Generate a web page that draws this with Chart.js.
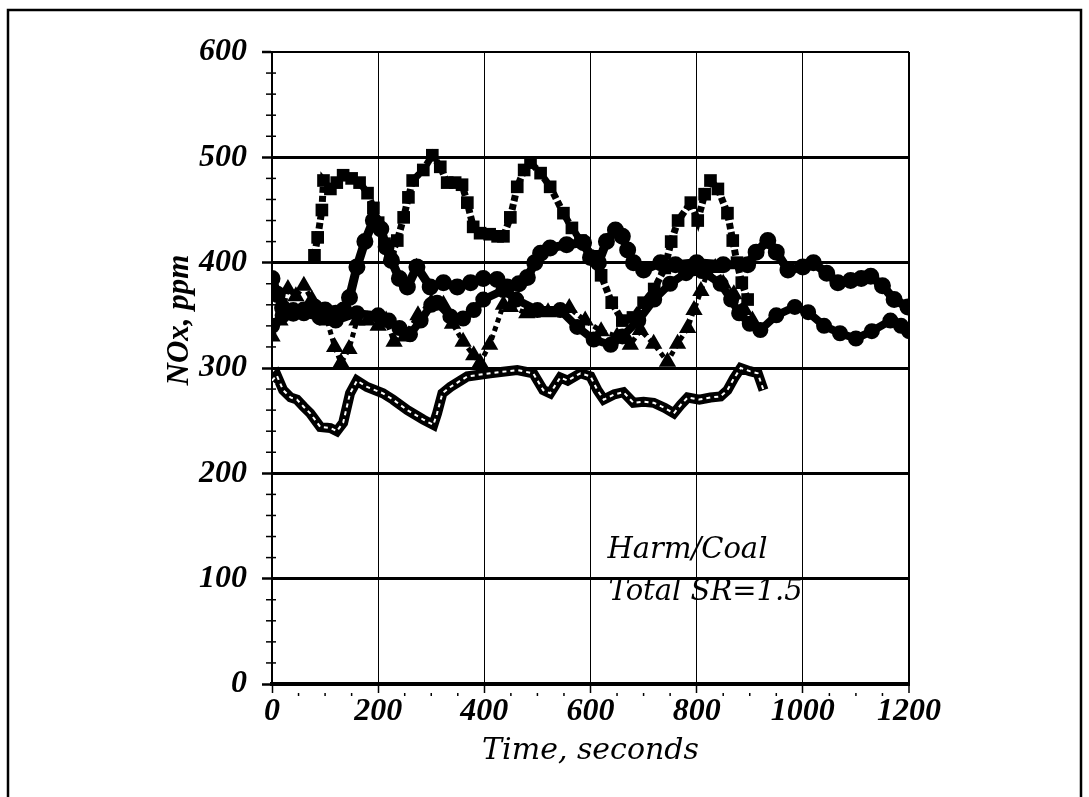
<!DOCTYPE html>
<html>
<head>
<meta charset="utf-8">
<script src="https://cdn.jsdelivr.net/npm/chart.js"></script>
<style>
  html, body { margin: 0; padding: 0; background: #fff; }
  #wrap { width: 1089px; height: 797px; position: relative; }
</style>
</head>
<body>
<div id="wrap"><canvas id="myChart"></canvas></div>
<script>
// NOx readings, Harm/Coal run, total SR = 1.5
// upper run (filled squares)
var sqTime = [80, 86, 94, 97, 110, 122, 134, 150, 165, 180, 191, 200, 212, 223, 236, 248, 257, 265, 285, 302, 317, 330, 345, 358, 368, 379, 392, 410, 425, 436, 449, 462, 475, 487, 506, 524, 549, 565, 581, 606, 620, 640, 660, 680, 700, 720, 740, 752, 765, 789, 802, 815, 826, 840, 858, 868, 876, 885, 896];
var sqNox = [407, 424, 450, 478, 470, 476, 483, 480, 476, 466, 452, 438, 418, 405, 421, 443, 462, 478, 488, 502, 491, 476, 476, 474, 457, 434, 428, 427, 425, 425, 443, 472, 488, 495, 485, 472, 447, 433, 421, 406, 388, 362, 345, 348, 362, 375, 395, 420, 440, 457, 440, 465, 478, 470, 447, 421, 400, 381, 365];

// run A (filled circles, full length)
var circATime = [0, 10, 20, 40, 60, 80, 100, 120, 135, 146, 160, 175, 191, 205, 215, 225, 240, 255, 273, 298, 323, 349, 374, 398, 424, 443, 465, 481, 495, 506, 524, 555, 587, 600, 615, 630, 647, 660, 670, 681, 700, 732, 760, 800, 850, 896, 912, 934, 950, 972, 1000, 1020, 1045, 1066, 1090, 1110, 1128, 1150, 1172, 1198];
var circANox = [385, 370, 357, 352, 355, 358, 355, 352, 355, 367, 396, 420, 440, 432, 415, 402, 385, 377, 396, 377, 381, 377, 381, 385, 384, 377, 380, 386, 400, 409, 414, 417, 419, 405, 400, 420, 431, 425, 412, 400, 393, 400, 398, 400, 398, 398, 410, 421, 410, 393, 396, 400, 390, 381, 383, 385, 387, 378, 365, 358];

// run B (filled circles, lower)
var circBTime = [0, 20, 40, 60, 90, 120, 160, 200, 220, 240, 260, 280, 300, 311, 336, 360, 380, 398, 436, 460, 500, 543, 575, 606, 638, 660, 690, 720, 750, 780, 810, 845, 865, 880, 900, 920, 950, 985, 1010, 1040, 1070, 1100, 1130, 1165, 1185, 1200];
var circBNox = [340, 350, 355, 352, 348, 345, 352, 350, 345, 338, 332, 345, 360, 362, 349, 347, 355, 365, 374, 365, 355, 355, 339, 327, 322, 330, 345, 365, 380, 390, 392, 380, 365, 352, 342, 336, 350, 358, 353, 340, 333, 328, 335, 345, 340, 335];

// triangles
var triTime = [0, 15, 30, 45, 60, 75, 90, 104, 118, 130, 145, 160, 180, 200, 215, 230, 250, 275, 300, 323, 340, 360, 380, 392, 410, 436, 449, 480, 520, 560, 590, 620, 650, 675, 694, 719, 745, 764, 783, 795, 808, 820, 835, 850, 870, 890, 905];
var triNox = [330, 345, 375, 368, 378, 365, 352, 345, 320, 305, 318, 345, 345, 340, 345, 325, 330, 350, 362, 360, 342, 325, 312, 305, 322, 360, 358, 352, 353, 357, 345, 335, 330, 322, 336, 323, 306, 323, 338, 355, 373, 390, 395, 380, 370, 355, 345];

// open squares (lowest run)
var openTime = [0, 9, 21, 35, 47, 60, 72, 91, 110, 122, 134, 147, 160, 179, 209, 228, 255, 285, 304, 311, 321, 336, 368, 411, 462, 492, 511, 524, 543, 557, 581, 600, 613, 625, 645, 662, 681, 700, 719, 740, 757, 770, 783, 805, 826, 845, 858, 870, 883, 900, 915, 926];
var openNox = [288, 293, 279, 272, 270, 263, 257, 244, 243, 240, 248, 276, 288, 282, 276, 270, 260, 251, 246, 257, 276, 282, 292, 295, 298, 295, 279, 276, 291, 288, 295, 292, 279, 270, 275, 277, 267, 268, 267, 262, 257, 265, 272, 270, 272, 273, 279, 290, 300, 297, 295, 279];

var xTicks = [0, 200, 400, 600, 800, 1000, 1200];
var yTicks = [0, 100, 200, 300, 400, 500, 600];

function pts(t, v) {
    var out = [];
    for (let i = 0; i < t.length; i++) out.push({x: t[i], y: v[i]});
    return out;
}

const ctx = document.getElementById('myChart');

// frame, minor ticks, y title and the run label
const paperMarks = {
    id: 'paperMarks',
    beforeDraw(chart) {
        const c = chart.ctx;
        c.save();
        c.strokeStyle = '#000';
        c.lineWidth = 2.5;
        c.beginPath();
        c.moveTo(8, 797); c.lineTo(8, 10); c.lineTo(1081, 10); c.lineTo(1081, 797);
        c.stroke();
        c.restore();
    },
    afterDraw(chart) {
        const c = chart.ctx;
        const xs = chart.scales.x, ys = chart.scales.y;
        c.save();
        c.strokeStyle = '#000';
        c.lineWidth = 1.5;
        for (let v = 20; v < 600; v += 20) {
            if (v % 100 === 0) continue;
            const py = ys.getPixelForValue(v);
            c.beginPath(); c.moveTo(xs.left - 6, py); c.lineTo(xs.left + 4, py); c.stroke();
        }
        for (let v = 50; v < 1200; v += 50) {
            if (v % 200 === 0) continue;
            const px = xs.getPixelForValue(v);
            c.beginPath(); c.moveTo(px, ys.bottom + 9); c.lineTo(px, ys.bottom + 12); c.stroke();
        }
        c.fillStyle = '#000';
        // y axis title
        c.save();
        c.translate(180, 320);
        c.rotate(-Math.PI / 2);
        c.textAlign = 'center';
        c.textBaseline = 'middle';
        c.font = 'italic bold 31px "Liberation Serif"';
        c.fillText('NOx, ppm', 0, 0);
        c.restore();
        c.font = 'italic 29px "DejaVu Serif"';
        c.textBaseline = 'alphabetic';
        c.fillText('Harm/Coal', xs.getPixelForValue(632), ys.getPixelForValue(120));
        c.fillText('Total SR=1.5', xs.getPixelForValue(634), ys.getPixelForValue(80));
        c.restore();
    }
};

const tickFont = { family: 'Liberation Serif', size: 32, style: 'italic', weight: 'bold' };

const chart = new Chart(ctx, {
    type: 'scatter',
    data: {
        datasets: [
            {   // white slits inside the open squares
                data: pts(openTime, openNox),
                showLine: true,
                borderColor: '#fff',
                borderWidth: 2,
                borderDash: [4, 4],
                pointRadius: 0,
                order: 0
            },
            {
                data: pts(openTime, openNox),
                showLine: true,
                borderColor: '#000',
                borderWidth: 10,
                pointRadius: 0,
                order: 1
            },
            {
                data: pts(sqTime, sqNox),
                showLine: true,
                borderColor: '#000',
                borderWidth: 7,
                borderDash: [6, 3],
                pointStyle: 'rect',
                pointRadius: 4,
                backgroundColor: '#000',
                order: 2
            },
            {
                data: pts(triTime, triNox),
                showLine: true,
                borderColor: '#000',
                borderWidth: 5,
                borderDash: [5, 4],
                pointStyle: 'triangle',
                pointRadius: 5,
                backgroundColor: '#000',
                order: 3
            },
            {
                data: pts(circATime, circANox),
                showLine: true,
                borderColor: '#000',
                borderWidth: 9,
                pointRadius: 4,
                backgroundColor: '#000',
                order: 4
            },
            {
                data: pts(circBTime, circBNox),
                showLine: true,
                borderColor: '#000',
                borderWidth: 8,
                pointRadius: 4,
                backgroundColor: '#000',
                order: 5
            }
        ]
    },
    options: {
        responsive: true,
        maintainAspectRatio: false,
        animation: false,
        layout: { padding: { left: 0, right: 180, top: 52, bottom: 0 } },
        plugins: {
            legend: { display: false },
            tooltip: { enabled: false }
        },
        scales: {
            x: {
                type: 'linear',
                min: 0,
                max: 1200,
                afterBuildTicks: (s) => { s.ticks = xTicks.map(v => ({value: v})); },
                afterFit: (s) => { s.height = 113; },
                ticks: { color: '#000', font: tickFont, padding: 0, maxRotation: 0, callback: (v) => String(v) },
                grid: {
                    color: (c) => c.tick && c.tick.value === 0 ? 'rgba(0,0,0,0)' : '#000',
                    lineWidth: (c) => c.tick && c.tick.value === 1200 ? 2 : 1,
                    tickColor: '#000',
                    tickLength: 9,
                    tickWidth: 1.5
                },
                border: { display: true, color: '#000', width: 4 },
                title: {
                    display: true,
                    text: 'Time, seconds',
                    color: '#000',
                    font: { family: 'DejaVu Serif', size: 30, style: 'italic' },
                    padding: { top: 0, bottom: 28 }
                }
            },
            y: {
                min: 0,
                max: 600,
                afterBuildTicks: (s) => { s.ticks = yTicks.map(v => ({value: v})); },
                afterFit: (s) => { s.width = 272; },
                ticks: { color: '#000', font: tickFont, padding: 15, callback: (v) => String(v) },
                grid: {
                    color: (c) => c.tick && c.tick.value === 0 ? 'rgba(0,0,0,0)' : '#000',
                    lineWidth: (c) => c.tick && c.tick.value === 600 ? 2 : 3,
                    tickColor: '#000',
                    tickLength: 10,
                    tickWidth: 2.5
                },
                border: { display: true, color: '#000', width: 2 },
                title: { display: false }
            }
        }
    },
    plugins: [paperMarks]
});
</script>
</body>
</html>
